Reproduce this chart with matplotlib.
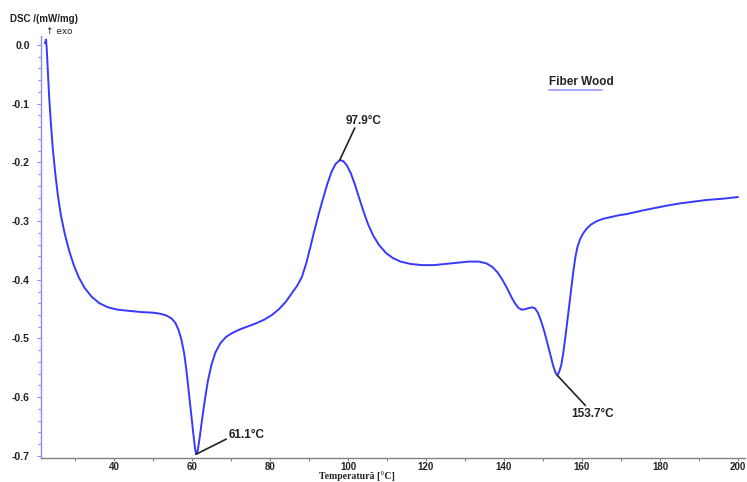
import matplotlib
matplotlib.use("Agg")
import matplotlib.pyplot as plt
from matplotlib.ticker import MultipleLocator

# DSC trace of the fiber wood sample
temperature = [22.3, 22.6, 22.8, 23.1, 23.4, 23.8, 24.3, 24.9, 25.6, 26.4, 27.4, 28.5,
               29.7, 31.0, 32.5, 34.3, 36.3, 38.5, 41.0, 44.0, 47.0, 50.0, 52.0, 53.5,
               54.8, 55.8, 56.6, 57.3, 58.0, 58.6, 59.2, 59.8, 60.4, 60.8, 61.1, 61.5,
               62.0, 62.6, 63.3, 64.1, 65.0, 66.0, 67.3, 68.8, 70.5, 72.5, 74.5, 76.5,
               78.5, 80.5, 82.3, 84.0, 85.5, 87.0, 88.2, 89.3, 90.3, 91.4, 92.5, 93.6,
               94.7, 95.8, 96.8, 97.9, 98.8, 99.7, 100.7, 101.7, 102.8, 104.0, 105.2,
               106.5, 108.0, 109.7, 111.5, 113.5, 116.0, 119.0, 122.0, 125.0, 128.0,
               131.0, 133.5, 135.5, 137.0, 138.3, 139.5, 140.7, 141.8, 142.8, 143.7,
               144.6, 145.5, 146.4, 147.3, 148.0, 148.7, 149.5, 150.3, 151.1, 151.9,
               152.6, 153.2, 153.7, 154.2, 154.7, 155.2, 155.7, 156.2, 156.8, 157.3,
               157.8, 158.3, 158.8, 159.5, 160.3, 161.2, 162.3, 163.8, 165.5, 167.5,
               169.5, 171.5, 173.5, 175.5, 178.5, 181.5, 185.0, 188.5, 192.0, 196.0,
               200.0]
dsc = [0.003, 0.009, -0.010, -0.050, -0.090, -0.130, -0.175, -0.215, -0.255, -0.290,
       -0.322, -0.350, -0.375, -0.396, -0.414, -0.429, -0.440, -0.447, -0.451, -0.453,
       -0.455, -0.456, -0.458, -0.461, -0.466, -0.474, -0.486, -0.502, -0.525, -0.555,
       -0.592, -0.630, -0.665, -0.688, -0.697, -0.690, -0.668, -0.638, -0.605, -0.572,
       -0.545, -0.524, -0.508, -0.497, -0.490, -0.484, -0.479, -0.474, -0.468, -0.460,
       -0.450, -0.438, -0.424, -0.410, -0.395, -0.372, -0.346, -0.316, -0.288, -0.262,
       -0.237, -0.216, -0.203, -0.196, -0.198, -0.205, -0.218, -0.236, -0.259, -0.284,
       -0.306, -0.325, -0.341, -0.354, -0.363, -0.369, -0.373, -0.375, -0.375, -0.373,
       -0.371, -0.369, -0.369, -0.372, -0.378, -0.387, -0.399, -0.413, -0.428, -0.440,
       -0.448, -0.451, -0.450, -0.448, -0.447, -0.449, -0.456, -0.470, -0.487, -0.507,
       -0.528, -0.546, -0.558, -0.563, -0.556, -0.545, -0.525, -0.500, -0.472, -0.440,
       -0.413, -0.385, -0.362, -0.345, -0.331, -0.321, -0.313, -0.306, -0.300, -0.296,
       -0.293, -0.290, -0.288, -0.285, -0.282, -0.278, -0.274, -0.270, -0.267, -0.264,
       -0.262, -0.259]

peak_temps = [61.1, 97.9, 153.7]
peak_values = [-0.697, -0.196, -0.563]
peak_labels = ["61.1°C", "97.9°C", "153.7°C"]
# leader-line end and label centre, in pixels relative to each peak
peak_line_offsets = [(30, 15), (15, 32), (28, -30)]
peak_text_offsets = [(50, 19), (24, 39), (35, -39)]

series_name = "Fiber Wood"
x_ticks = [40, 60, 80, 100, 120, 140, 160, 180, 200]
y_ticks = [0.0, -0.1, -0.2, -0.3, -0.4, -0.5, -0.6, -0.7]
y_tick_labels = ["0.0", "-0.1", "-0.2", "-0.3", "-0.4", "-0.5", "-0.6", "-0.7"]

W, H = 747, 482
fig = plt.figure(figsize=(W / 100, H / 100), dpi=100)
ax = fig.add_axes([41 / W, 1 - 458 / H, (745 - 41) / W, (458 - 36) / H])

curve_color = "#3838ff"
ax.plot(temperature, dsc, color=curve_color, lw=1.4, solid_joinstyle="round",
        solid_capstyle="round")

ax.set_xlim(21.3, 201.8)
ax.set_ylim(-0.7036, 0.0153)

for s in ("top", "right"):
    ax.spines[s].set_visible(False)
ax.spines["left"].set_color("#8c8cff")
ax.spines["left"].set_linewidth(1.0)
ax.spines["bottom"].set_color("#808080")
ax.spines["bottom"].set_linewidth(1.0)

ax.set_xticks(x_ticks)
ax.xaxis.set_minor_locator(MultipleLocator(10))
ax.set_yticks(y_ticks)
ax.set_yticklabels(y_tick_labels)
ax.yaxis.set_minor_locator(MultipleLocator(0.02))

ax.tick_params(axis="y", which="both", direction="out", colors="#8c8cff",
               labelcolor="#222222", labelsize=7.5, length=3, width=0.8, pad=5)
ax.tick_params(axis="y", which="minor", length=2)
ax.tick_params(axis="x", which="both", direction="out", colors="#808080",
               labelcolor="#222222", labelsize=7, length=2.5, width=0.8, pad=0.5)
for lab in ax.get_xticklabels() + ax.get_yticklabels():
    lab.set_fontweight("bold")
    lab.set_family("Liberation Sans")

# axis title, kept just inside the lower edge
fig.text(357 / W, 1 - 476.5 / H, "Temperatură [°C]", family="Liberation Serif",
         fontweight="bold", fontsize=7, ha="center", va="center", color="#222222")

fig.text(10 / W, 1 - 19 / H, "DSC /(mW/mg)", family="Liberation Sans",
         fontweight="bold", fontsize=7, va="center", ha="left", color="#222222")
fig.text(46 / W, 1 - 31 / H, "↑ exo", family="DejaVu Sans",
         fontsize=6.5, va="center", ha="left", color="#222222")

# series label with its swatch line
fig.text(581 / W, 1 - 82 / H, series_name, family="Liberation Sans",
         fontweight="bold", fontsize=8.5, ha="center", va="center", color="#222222")
fig.add_artist(plt.Line2D([549 / W, 602 / W], [1 - 90 / H, 1 - 90 / H],
                          color="#9a9aff", lw=1.2))

for t, v, lab, lo, to in zip(peak_temps, peak_values, peak_labels,
                             peak_line_offsets, peak_text_offsets):
    ax.annotate("", xy=(t, v), xytext=lo, textcoords="offset pixels",
                arrowprops=dict(arrowstyle="-", color="#222222", lw=1.2,
                                shrinkA=0, shrinkB=0))
    ax.annotate(lab, xy=(t, v), xytext=to, textcoords="offset pixels",
                ha="center", va="center", family="Liberation Sans",
                fontweight="bold", fontsize=8.5, color="#222222")

fig.savefig("out.png", dpi=100)
